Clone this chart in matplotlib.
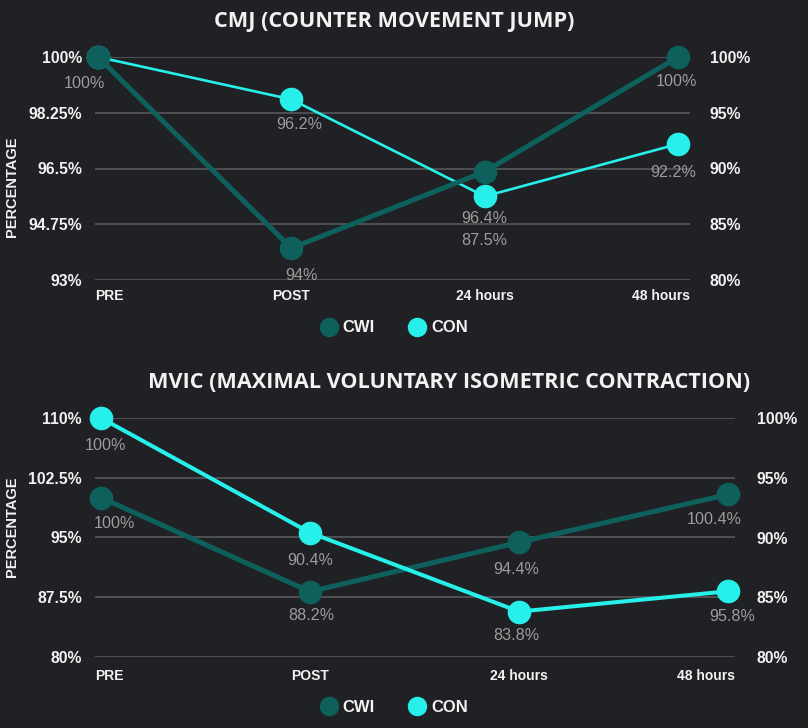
import matplotlib
matplotlib.use('Agg')
import matplotlib.pyplot as plt
from matplotlib.lines import Line2D
from matplotlib.ticker import FixedLocator, FuncFormatter

# data
timepoints = ['PRE', 'POST', '24 hours', '48 hours']

cmj_cwi = [100, 94, 96.4, 100]
cmj_con = [100, 96.2, 87.5, 92.2]
cmj_cwi_labels = ['100%', '94%', '96.4%', '100%']
cmj_con_labels = [None, '96.2%', '87.5%', '92.2%']
cmj_left_ticks = [93, 94.75, 96.5, 98.25, 100]
cmj_right_ticks = [80, 85, 90, 95, 100]

mvic_cwi = [100, 88.2, 94.4, 100.4]
mvic_con = [100, 90.4, 83.8, 85.5]
mvic_cwi_labels = ['100%', '88.2%', '94.4%', '100.4%']
mvic_con_labels = ['100%', '90.4%', '83.8%', '95.8%']
mvic_left_ticks = [80, 87.5, 95, 102.5, 110]
mvic_right_ticks = [80, 85, 90, 95, 100]

BG = '#202124'
DARK = '#0d605b'
CYAN = '#27efe9'
GRID = '#5c5d5f'
LABEL_GREY = '#9c9c9c'
WHITE = '#f2f2f2'
PX = 0.72  # points per pixel at dpi 100


def pct(v, _pos=None):
    return f'{v:g}%'


def style_axis(ax, ticks, pad):
    ax.set_ylim(ticks[0], ticks[-1])
    ax.yaxis.set_major_locator(FixedLocator(ticks))
    ax.yaxis.set_major_formatter(FuncFormatter(pct))
    ax.tick_params(axis='y', length=0, pad=pad, colors=WHITE)
    for lab in ax.get_yticklabels():
        lab.set_fontfamily('Liberation Sans')
        lab.set_fontweight('bold')
        lab.set_fontsize(11.3)
    ax.spines[['left', 'right', 'top', 'bottom']].set_visible(False)
    ax.set_xticks([])


def put_labels(ax, values, labels, offsets):
    for i, (v, s) in enumerate(zip(values, labels)):
        if s is None:
            continue
        dx, dy = offsets[i]
        ax.annotate(s, (i, v), xytext=(dx * PX, -dy * PX), textcoords='offset points',
                    ha='center', va='center', color=LABEL_GREY, fontsize=11.6,
                    family='Liberation Sans', annotation_clip=False, zorder=6)


def draw_panel(fig, rect, xlims, left_ticks, right_ticks, cwi, con, cwi_labels, con_labels,
               cwi_off, con_off, cwi_lw, con_lw, cwi_on_top, lpad, rpad, xlab_gap):
    ax = fig.add_axes(rect)
    axr = ax.twinx()
    for a in (ax, axr):
        a.set_xlim(*xlims)
        a.patch.set_visible(False)
    style_axis(ax, left_ticks, lpad)
    style_axis(axr, right_ticks, rpad)

    if cwi_on_top:
        ax.set_zorder(axr.get_zorder() + 1)
        grid_ax, grid_ticks = axr, right_ticks
    else:
        grid_ax, grid_ticks = ax, left_ticks
    for t in grid_ticks:
        grid_ax.axhline(t, color=GRID, lw=1.1, zorder=0)

    x = range(len(timepoints))
    ax.plot(x, cwi, color=DARK, lw=cwi_lw, marker='o', markersize=16,
            clip_on=False, zorder=3)
    axr.plot(x, con, color=CYAN, lw=con_lw, marker='o', markersize=16,
             clip_on=False, zorder=3)
    put_labels(ax, cwi, cwi_labels, cwi_off)
    put_labels(axr, con, con_labels, con_off)

    # category labels: first one left-aligned, last one right-aligned
    n = len(timepoints)
    for i, name in enumerate(timepoints):
        if i == 0:
            xpos, ha = xlims[0], 'left'
        elif i == n - 1:
            xpos, ha = xlims[1], 'right'
        else:
            xpos, ha = i, 'center'
        ax.annotate(name, (xpos, 0), xycoords=ax.get_xaxis_transform(),
                    xytext=(0, -xlab_gap * PX), textcoords='offset points',
                    ha=ha, va='center', color=WHITE, fontsize=10,
                    fontweight='bold', family='Liberation Sans', annotation_clip=False)
    return ax, axr


W, H = 808, 728
fig = plt.figure(figsize=(W / 100, H / 100), dpi=100, facecolor=BG)

# CMJ panel
top_rect = [95 / W, 1 - 280 / H, (690 - 95) / W, (280 - 57) / H]
draw_panel(fig, top_rect, (-0.0155, 3.062), cmj_left_ticks, cmj_right_ticks,
           cmj_cwi, cmj_con, cmj_cwi_labels, cmj_con_labels,
           cwi_off=[(-14, 26), (10, 27), (0, 47), (-2, 25)],
           con_off=[(0, 26), (8, 25), (0, 44), (-5, 29)],
           cwi_lw=3.6, con_lw=1.9, cwi_on_top=True, lpad=9.4, rpad=14.4, xlab_gap=16)

# MVIC panel
bot_rect = [95 / W, 1 - 657 / H, (735 - 95) / W, (657 - 418) / H]
draw_panel(fig, bot_rect, (-0.029, 3.033), mvic_left_ticks, mvic_right_ticks,
           mvic_cwi, mvic_con, mvic_cwi_labels, mvic_con_labels,
           cwi_off=[(13, 26), (1, 24), (-3, 27), (-14, 25)],
           con_off=[(4, 28), (0, 28), (-3, 24), (4, 25)],
           cwi_lw=3.6, con_lw=2.9, cwi_on_top=False, lpad=9.4, rpad=15.8, xlab_gap=19)

# titles
fig.text(394.5 / W, 1 - 27 / H, 'CMJ (COUNTER MOVEMENT JUMP)', ha='center', va='baseline',
         color=WHITE, fontsize=15.6, fontweight='bold', family='Open Sans')
fig.text(449.5 / W, 1 - 388 / H, 'MVIC (MAXIMAL VOLUNTARY ISOMETRIC CONTRACTION)', ha='center',
         va='baseline', color=WHITE, fontsize=15.6, fontweight='bold', family='Open Sans')

# y-axis titles
for yc in (187, 527):
    fig.text(12 / W, 1 - yc / H, 'PERCENTAGE', rotation=90, ha='center', va='center',
             color=WHITE, fontsize=10.5, fontweight='bold', family='Liberation Sans')

# legends
handles = [Line2D([], [], ls='none', marker='o', markersize=13, color=DARK, label='CWI'),
           Line2D([], [], ls='none', marker='o', markersize=13, color=CYAN, label='CON')]
for yc in (328, 707):
    fig.legend(handles=handles, loc='center', bbox_to_anchor=(394 / W, 1 - yc / H), ncol=2,
               frameon=False, handlelength=1.0, handletextpad=0.35, columnspacing=2.0,
               prop={'family': 'Liberation Sans', 'weight': 'bold', 'size': 12},
               labelcolor=WHITE)

fig.savefig('out.png', dpi=100, facecolor=BG)
